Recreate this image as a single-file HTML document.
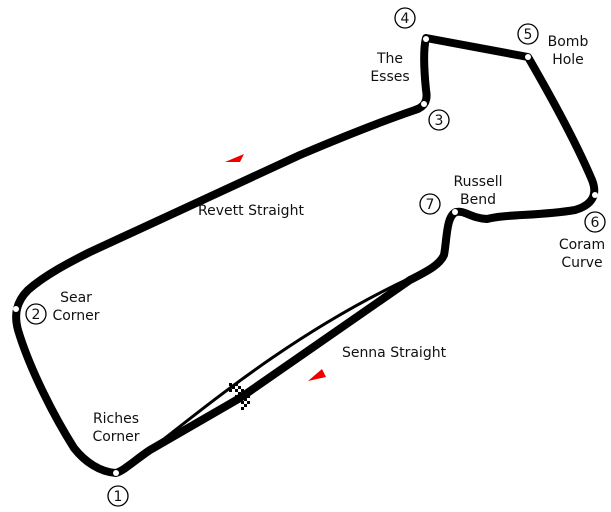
<!DOCTYPE html>
<html><head><style>body{margin:0;background:#fff}svg{display:block}text{font-family:"DejaVu Sans","Liberation Sans",sans-serif;font-size:14px;fill:#111}</style></head><body>
<svg width="611" height="512" viewBox="0 0 611 512">
<g fill="none" stroke="#000" stroke-linecap="round" stroke-linejoin="round">
<path d="M155,446 C220,395 300,330 410,278" stroke-width="3"/>
<path d="M116,473 C100,472 85,462 74,448 C55,418 30,370 18,330 C14,315 16,302 28,290 C45,275 70,262 90,252 L300,155 C340,138 380,122 415,110 C425,107 428,100 426,90 C424,70 423,50 426,38 L528,57 C550,95 575,140 592,180 C598,195 592,205 575,210 C540,216 505,214 487,219 C470,218 465,210 456,212 C446,216 447,240 444,255 C440,264 430,270 410,280 L240,398 L150,450 C135,460 125,470 116,473 Z" stroke-width="8"/>
</g>
<g fill="#fff" stroke="none">
<circle cx="116" cy="473" r="3"/><circle cx="16" cy="309" r="3"/><circle cx="424" cy="104" r="3"/><circle cx="426" cy="39" r="3"/><circle cx="528" cy="57" r="3"/><circle cx="595" cy="195" r="3"/><circle cx="455" cy="212" r="3"/>
</g>
<g fill="#000">
<rect x="229" y="383" width="3" height="3"/><rect x="235" y="383" width="3" height="3"/><rect x="232" y="386" width="3" height="3"/><rect x="238" y="386" width="3" height="3"/><rect x="229" y="389" width="3" height="3"/><rect x="235" y="389" width="3" height="3"/><rect x="241" y="389" width="3" height="3"/><rect x="238" y="392" width="3" height="3"/><rect x="244" y="392" width="3" height="3"/><rect x="235" y="395" width="3" height="3"/><rect x="241" y="395" width="3" height="3"/><rect x="247" y="395" width="3" height="3"/><rect x="238" y="398" width="3" height="3"/><rect x="244" y="398" width="3" height="3"/><rect x="241" y="401" width="3" height="3"/><rect x="247" y="401" width="3" height="3"/><rect x="244" y="404" width="3" height="3"/><rect x="241" y="407" width="3" height="3"/>
</g>
<polygon points="225,162 244,154 240,162" fill="#e00"/>
<polygon points="308,381 322,369 326,377" fill="#e00"/>
<g fill="#fff" stroke="#000" stroke-width="1.3">
<circle cx="118" cy="496" r="10"/><circle cx="36" cy="314" r="10"/><circle cx="439" cy="120" r="10"/><circle cx="405" cy="18" r="10"/><circle cx="528" cy="34" r="10"/><circle cx="595" cy="222" r="10"/><circle cx="430" cy="204" r="10"/>
</g>
<g text-anchor="middle">
<text x="118" y="501">1</text><text x="36" y="319">2</text><text x="439" y="125">3</text><text x="405" y="23">4</text><text x="528" y="39">5</text><text x="595" y="227">6</text><text x="430" y="209">7</text>
<text x="390" y="63">The</text><text x="390" y="81">Esses</text>
<text x="568" y="46">Bomb</text><text x="568" y="64">Hole</text>
<text x="478" y="186">Russell</text><text x="478" y="204">Bend</text>
<text x="582" y="249">Coram</text><text x="582" y="267">Curve</text>
<text x="76" y="302">Sear</text><text x="76" y="320">Corner</text>
<text x="116" y="423">Riches</text><text x="116" y="441">Corner</text>
<text x="251" y="215">Revett Straight</text>
<text x="394" y="357">Senna Straight</text>
</g>
</svg>
</body></html>
